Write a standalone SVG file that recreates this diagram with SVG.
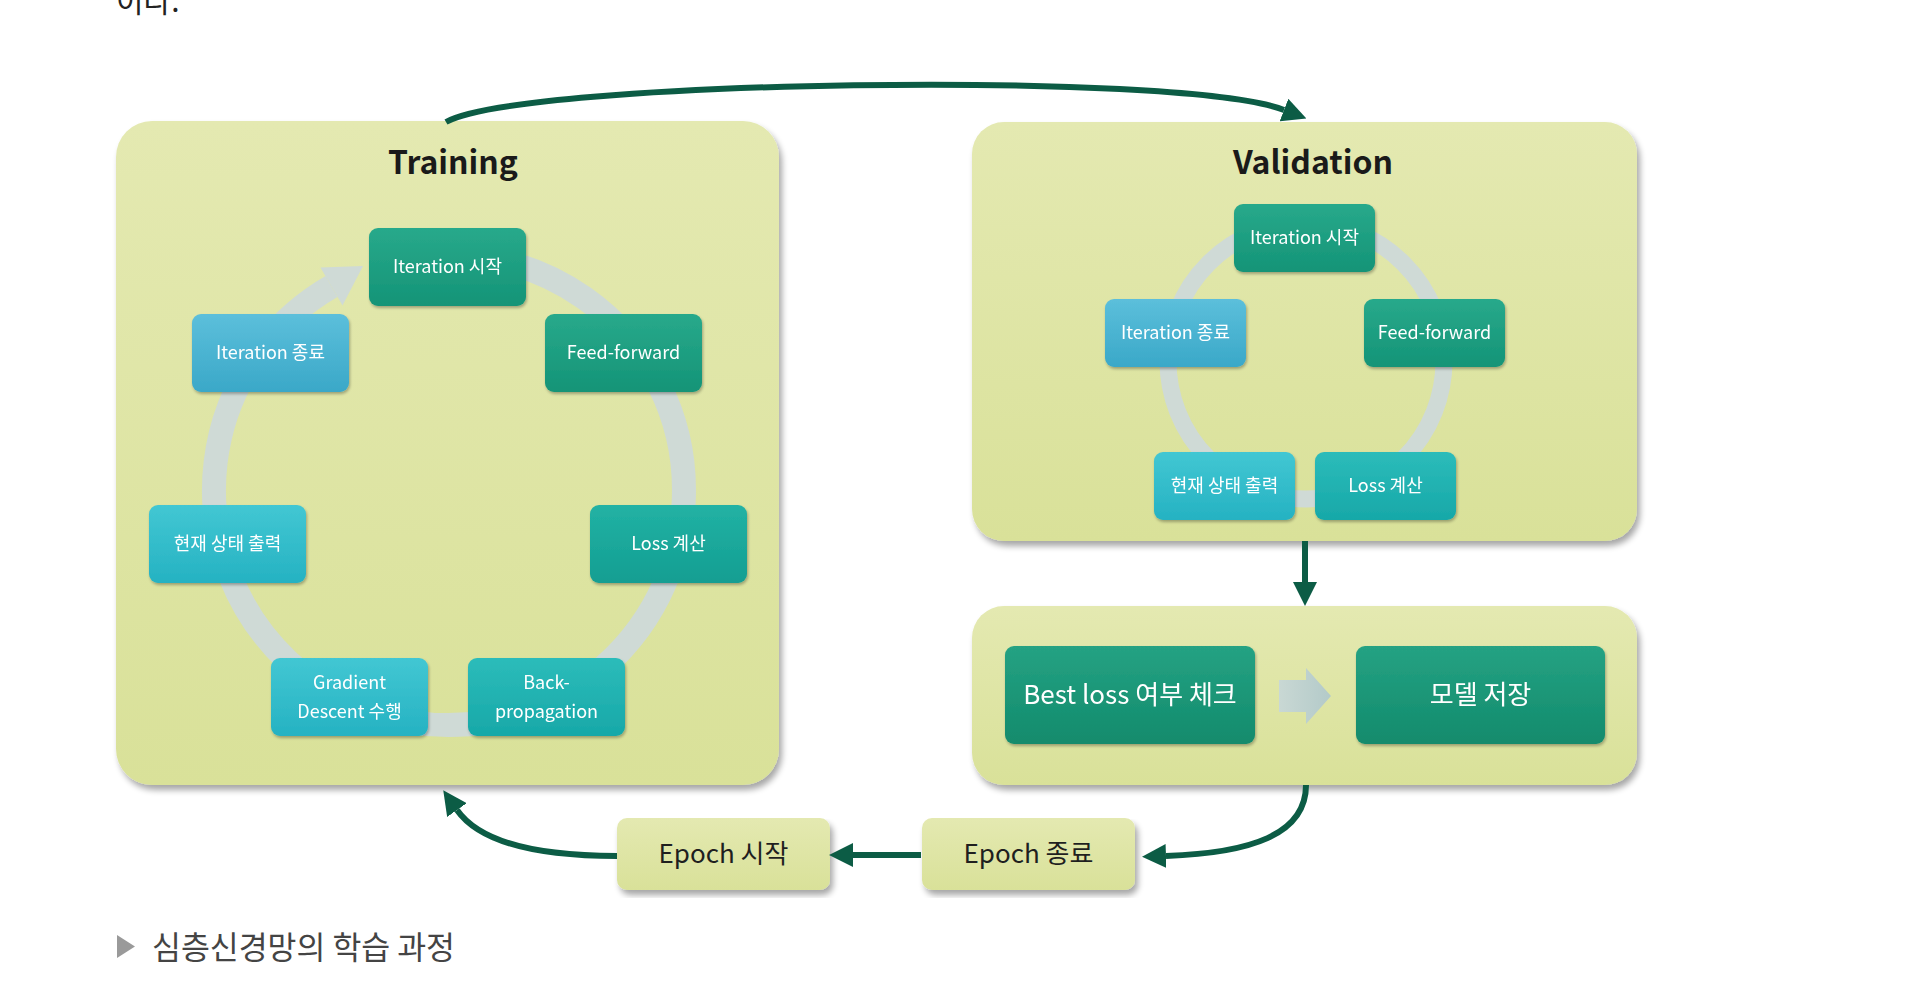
<svg xmlns="http://www.w3.org/2000/svg" width="1915" height="999" viewBox="0 0 1915 999">
<defs>
<style>
text{font-family:"Noto Sans CJK KR","Noto Sans",sans-serif}
.nt{fill:#fff;font-size:18px;text-anchor:middle}
.title{fill:#1a1a1a;font-size:32px;font-weight:bold;text-anchor:middle}
.big{fill:#fff;font-size:26px;text-anchor:middle}
.ep{fill:#1f1f1f;font-size:26px;text-anchor:middle}
.conn{fill:none;stroke:#0c5c45;stroke-width:6;stroke-linecap:butt}
.ring{fill:none;stroke:#cfdad6}
.panel{fill:url(#gPanel);filter:url(#sh)}
.node{filter:url(#nsh)}
</style>
<linearGradient id="gPanel" x1="0" y1="0" x2="0" y2="1"><stop offset="0" stop-color="#e4e9b1"/><stop offset="1" stop-color="#d9e199"/></linearGradient>
<linearGradient id="gGreen" x1="0" y1="0" x2="0" y2="1"><stop offset="0" stop-color="#28a98b"/><stop offset="1" stop-color="#149477"/></linearGradient>
<linearGradient id="gTeal" x1="0" y1="0" x2="0" y2="1"><stop offset="0" stop-color="#22b2a4"/><stop offset="1" stop-color="#139e92"/></linearGradient>
<linearGradient id="gTeal2" x1="0" y1="0" x2="0" y2="1"><stop offset="0" stop-color="#2cbcba"/><stop offset="1" stop-color="#17a8a8"/></linearGradient>
<linearGradient id="gCyan" x1="0" y1="0" x2="0" y2="1"><stop offset="0" stop-color="#42c7d3"/><stop offset="1" stop-color="#25b2c2"/></linearGradient>
<linearGradient id="gBlue" x1="0" y1="0" x2="0" y2="1"><stop offset="0" stop-color="#5cbfdb"/><stop offset="1" stop-color="#3aa8c8"/></linearGradient>
<linearGradient id="gDark" x1="0" y1="0" x2="0" y2="1"><stop offset="0" stop-color="#25a283"/><stop offset="1" stop-color="#128b6c"/></linearGradient>
<linearGradient id="gBlock" x1="0" y1="0" x2="1" y2="0"><stop offset="0" stop-color="#c9d8d4"/><stop offset="1" stop-color="#b3cac9"/></linearGradient>
<filter id="sh" x="-5%" y="-5%" width="112%" height="115%"><feGaussianBlur in="SourceAlpha" stdDeviation="3"/><feOffset dx="3" dy="5"/><feComponentTransfer><feFuncA type="linear" slope="0.35"/></feComponentTransfer><feMerge><feMergeNode/><feMergeNode in="SourceGraphic"/></feMerge></filter>
<filter id="nsh" x="-10%" y="-10%" width="125%" height="130%"><feGaussianBlur in="SourceAlpha" stdDeviation="1.5"/><feOffset dx="1" dy="2"/><feComponentTransfer><feFuncA type="linear" slope="0.3"/></feComponentTransfer><feMerge><feMergeNode/><feMergeNode in="SourceGraphic"/></feMerge></filter>
<marker id="ah" viewBox="0 0 10 10" refX="0" refY="5" markerWidth="4" markerHeight="4" orient="auto" markerUnits="strokeWidth"><path d="M0,0 L10,5 L0,10 z" fill="#0c5c45"/></marker>
</defs>
<rect width="1915" height="999" fill="#ffffff"/>
<text x="116" y="12" font-size="30" fill="#222">이다.</text>

<g id="training">
<rect class="panel" x="116" y="121" width="663" height="664" rx="36"/>
<text class="title" x="453" y="174">Training</text>
<path class="ring" stroke-width="24" d="M489.8,258.6 A235,235 0 1 1 331.5,286.5"/>
<polygon points="320.5,267.5 363,266 342.5,305.5" fill="#cfdad6"/>
</g>
<g id="t_start" class="node"><rect x="369" y="228" width="157" height="78" rx="9" fill="url(#gGreen)"/><text class="nt" x="447.5" y="273">Iteration 시작</text></g>
<g id="t_ff" class="node"><rect x="545" y="314" width="157" height="78" rx="9" fill="url(#gGreen)"/><text class="nt" x="623.5" y="359">Feed-forward</text></g>
<g id="t_loss" class="node"><rect x="590" y="505" width="157" height="78" rx="9" fill="url(#gTeal)"/><text class="nt" x="668.5" y="550">Loss 계산</text></g>
<g id="t_bp" class="node"><rect x="468" y="658" width="157" height="78" rx="9" fill="url(#gTeal2)"/><text class="nt" x="546.5" y="689">Back-</text><text class="nt" x="546.5" y="718">propagation</text></g>
<g id="t_gd" class="node"><rect x="271" y="658" width="157" height="78" rx="9" fill="url(#gCyan)"/><text class="nt" x="349.5" y="689">Gradient</text><text class="nt" x="349.5" y="718">Descent 수행</text></g>
<g id="t_print" class="node"><rect x="149" y="505" width="157" height="78" rx="9" fill="url(#gCyan)"/><text class="nt" x="227.5" y="550">현재 상태 출력</text></g>
<g id="t_end" class="node"><rect x="192" y="314" width="157" height="78" rx="9" fill="url(#gBlue)"/><text class="nt" x="270.5" y="359">Iteration 종료</text></g>

<g id="validation">
<rect class="panel" x="972" y="122" width="665" height="419" rx="32"/>
<text class="title" x="1313" y="174">Validation</text>
<circle class="ring" stroke-width="17" cx="1306" cy="361" r="138"/>
</g>
<g id="v_start" class="node"><rect x="1234" y="204" width="141" height="68" rx="9" fill="url(#gGreen)"/><text class="nt" x="1304.5" y="244">Iteration 시작</text></g>
<g id="v_ff" class="node"><rect x="1364" y="299" width="141" height="68" rx="9" fill="url(#gGreen)"/><text class="nt" x="1434.5" y="339">Feed-forward</text></g>
<g id="v_end" class="node"><rect x="1105" y="299" width="141" height="68" rx="9" fill="url(#gBlue)"/><text class="nt" x="1175.5" y="339">Iteration 종료</text></g>
<g id="v_print" class="node"><rect x="1154" y="452" width="141" height="68" rx="9" fill="url(#gCyan)"/><text class="nt" x="1224.5" y="492">현재 상태 출력</text></g>
<g id="v_loss" class="node"><rect x="1315" y="452" width="141" height="68" rx="9" fill="url(#gTeal2)"/><text class="nt" x="1385.5" y="492">Loss 계산</text></g>

<g id="save_panel">
<rect class="panel" x="972" y="606" width="665" height="179" rx="32"/>
<polygon points="1279,680 1306,680 1306,668 1331,696 1306,724 1306,712 1279,712" fill="url(#gBlock)"/>
</g>
<g id="best" class="node"><rect x="1005" y="646" width="250" height="98" rx="9" fill="url(#gDark)"/><text class="big" x="1130" y="704">Best loss 여부 체크</text></g>
<g id="save" class="node"><rect x="1356" y="646" width="249" height="98" rx="9" fill="url(#gDark)"/><text class="big" x="1480.5" y="704">모델 저장</text></g>

<g id="epoch_start"><rect class="panel" x="617" y="818" width="213" height="72" rx="10"/><text class="ep" x="723.5" y="863">Epoch 시작</text></g>
<g id="epoch_end"><rect class="panel" x="922" y="818" width="213" height="72" rx="10"/><text class="ep" x="1028.5" y="863">Epoch 종료</text></g>

<g id="connectors">
<path class="conn" marker-end="url(#ah)" d="M446,122 C520,80 1180,70 1284,110"/>
<path class="conn" marker-end="url(#ah)" d="M1305,541 L1305,582"/>
<path class="conn" marker-end="url(#ah)" d="M1306,785 C1306,835 1250,853 1166,856"/>
<path class="conn" marker-end="url(#ah)" d="M921,855 L853,855"/>
<path class="conn" marker-end="url(#ah)" d="M617,856 C530,856 478,840 457,810"/>
</g>

<g id="caption">
<polygon points="117,935 135,946.5 117,958" fill="#9a9a9a"/>
<text x="152" y="959" font-size="32" fill="#444" textLength="303" lengthAdjust="spacingAndGlyphs">심층신경망의 학습 과정</text>
</g>
</svg>
